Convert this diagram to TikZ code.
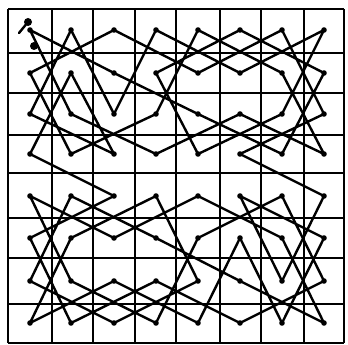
\documentclass[tikz,border=0pt]{standalone}
\begin{document}
\begin{tikzpicture}[x=1pt,y=-1pt,
  gridline/.style={line width=2.2pt},
  tour/.style={line width=2.4pt, line join=round, line cap=round},
  dot/.style={fill=black}]
\useasboundingbox (0,0) rectangle (348,345);
\fill[white] (0,0) rectangle (348,345);
% grid
\foreach \x in {8,52,93,135,176,220,261,304,344} \draw[gridline] (\x,9) -- (\x,343);
\foreach \y in {9,53,93,135,173,218,258,304,343} \draw[gridline] (8,\y) -- (344,\y);
% square centres
\foreach \c/\x in {0/30,1/71,2/114,3/156,4/198,5/240,6/282,7/324}
  \foreach \r/\y in {0/30,1/73,2/114,3/154,4/196,5/238,6/281,7/323}
    \coordinate (s\c\r) at (\x,\y);
% tour
\draw[tour] (s03) -- (s11) -- (s23) -- (s02) -- (s10) -- (s22) -- (s30) -- (s51) -- (s70) -- (s62)
  -- (s43) -- (s31) -- (s50) -- (s71) -- (s63) -- (s42) -- (s21) -- (s00) -- (s12) -- (s33)
  -- (s52) -- (s73) -- (s61) -- (s40) -- (s32) -- (s13) -- (s01) -- (s20) -- (s41) -- (s60)
  -- (s72) -- (s53)
  -- (s74) -- (s66) -- (s54) -- (s75) -- (s67) -- (s55) -- (s47) -- (s26) -- (s07) -- (s15)
  -- (s34) -- (s46) -- (s27) -- (s06) -- (s14) -- (s35) -- (s56) -- (s77) -- (s65) -- (s44)
  -- (s25) -- (s04) -- (s16) -- (s37) -- (s45) -- (s64) -- (s76) -- (s57) -- (s36) -- (s17)
  -- (s05) -- (s24) -- cycle;
% dots
\foreach \c in {0,...,7} \foreach \r in {0,...,7} \fill[dot] (s\c\r) circle (2.8pt);
% start mark
\coordinate (startmark) at (28,22);
\coordinate (startstub) at (19,33);
\coordinate (startblob) at (34,46);
\fill (startmark) circle (4pt);
\draw[tour] (startmark) -- (startstub);
\fill (startblob) circle (4pt);
\end{tikzpicture}
\end{document}
